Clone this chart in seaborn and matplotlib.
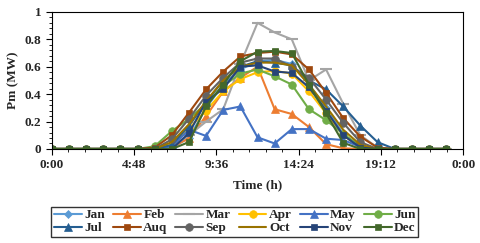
import numpy as np
import pandas as pd
import seaborn as sns
import matplotlib
matplotlib.use("Agg")
import matplotlib.pyplot as plt
from matplotlib.ticker import MultipleLocator

#### data: hourly Pm (MW), hours 0..23
hours = list(range(24))
months = ["Jan", "Feb", "Mar", "Apr", "May", "Jun",
          "Jul", "Auq", "Sep", "Oct", "Nov", "Dec"]

jan = [0, 0, 0, 0, 0, 0, 0, 0.01, 0.08, 0.30, 0.47, 0.58, 0.64, 0.65, 0.62, 0.47, 0.30, 0.11, 0.01, 0, 0, 0, 0, 0]
feb = [0, 0, 0, 0, 0, 0, 0, 0.01, 0.08, 0.24, 0.42, 0.52, 0.60, 0.29, 0.255, 0.16, 0.035, 0.005, 0, 0, 0, 0, 0, 0]
mar = [0, 0, 0, 0, 0, 0, 0, 0.02, 0.10, 0.20, 0.29, 0.62, 0.92, 0.85, 0.80, 0.50, 0.58, 0.33, 0.10, 0.01, 0, 0, 0, 0]
apr = [0, 0, 0, 0, 0, 0, 0, 0.03, 0.15, 0.28, 0.42, 0.51, 0.56, 0.57, 0.55, 0.42, 0.26, 0.10, 0.01, 0, 0, 0, 0, 0]
may = [0, 0, 0, 0, 0, 0, 0, 0.02, 0.14, 0.095, 0.285, 0.31, 0.085, 0.04, 0.145, 0.145, 0.075, 0.065, 0.015, 0, 0, 0, 0, 0]
jun = [0, 0, 0, 0, 0, 0, 0.02, 0.13, 0.22, 0.33, 0.46, 0.55, 0.58, 0.53, 0.47, 0.29, 0.21, 0.11, 0.02, 0, 0, 0, 0, 0]
jul = [0, 0, 0, 0, 0, 0, 0, 0.03, 0.17, 0.34, 0.50, 0.60, 0.64, 0.63, 0.61, 0.50, 0.435, 0.31, 0.17, 0.05, 0, 0, 0, 0]
aug = [0, 0, 0, 0, 0, 0, 0.01, 0.10, 0.265, 0.435, 0.565, 0.675, 0.70, 0.71, 0.69, 0.58, 0.41, 0.225, 0.09, 0.01, 0, 0, 0, 0]
sep = [0, 0, 0, 0, 0, 0, 0, 0.07, 0.22, 0.39, 0.52, 0.63, 0.66, 0.66, 0.60, 0.52, 0.36, 0.19, 0.05, 0, 0, 0, 0, 0]
oct_ = [0, 0, 0, 0, 0, 0, 0, 0.05, 0.18, 0.35, 0.50, 0.60, 0.63, 0.63, 0.61, 0.47, 0.31, 0.14, 0.03, 0, 0, 0, 0, 0]
nov = [0, 0, 0, 0, 0, 0, 0, 0, 0.115, 0.345, 0.44, 0.60, 0.61, 0.565, 0.555, 0.45, 0.28, 0.10, 0.01, 0, 0, 0, 0, 0]
dec = [0, 0, 0, 0, 0, 0, 0, 0, 0.05, 0.31, 0.47, 0.64, 0.71, 0.715, 0.70, 0.47, 0.26, 0.045, 0, 0, 0, 0, 0, 0]

series = [jan, feb, mar, apr, may, jun, jul, aug, sep, oct_, nov, dec]

xtick_pos = [0, 4.8, 9.6, 14.4, 19.2, 24]
xtick_lab = ["0:00", "4:48", "9:36", "14:24", "19:12", "0:00"]
ytick_pos = [0, 0.2, 0.4, 0.6, 0.8, 1.0]
ytick_lab = ["0", "0.2", "0.4", "0.6", "0.8", "1"]

colors = ['#5B9BD5', '#ED7D31', '#A5A5A5', '#FFC000', '#4472C4', '#70AD47',
          '#255E91', '#9E480E', '#636363', '#997300', '#264478', '#43682B']
marks = ['D', '^', '_', 'o', '^', 'o', '^', 's', 'o', '', 's', 's']
msize = [4.5, 5.5, 8, 5.5, 5.5, 5.5, 5.5, 5, 5.5, 0, 5, 5]
##################

df = pd.DataFrame({"hour": np.tile(hours, len(months)),
                   "Pm": np.concatenate(series),
                   "month": np.repeat(months, len(hours))})

sns.set_style("ticks")
plt.rcParams['font.family'] = ['Liberation Serif', 'DejaVu Serif']
plt.rcParams['font.weight'] = 'bold'

fig = plt.figure(figsize=(4.8, 2.43), dpi=100)
ax = fig.add_axes([0.108, 0.387, 0.857, 0.564])

for i, m in enumerate(months):
    sub = df[df["month"] == m]
    sns.lineplot(data=sub, x="hour", y="Pm", ax=ax, color=colors[i],
                 marker=marks[i] if marks[i] else None, markersize=msize[i],
                 markeredgecolor=colors[i], markeredgewidth=1.5 if marks[i] == '_' else 0.5,
                 linewidth=1.5, label=m)

ax.set_xlim(0, 24)
ax.set_ylim(0, 1)
ax.set_xticks(xtick_pos)
ax.set_xticklabels(xtick_lab)
ax.xaxis.set_minor_locator(MultipleLocator(0.96))
ax.set_yticks(ytick_pos)
ax.set_yticklabels(ytick_lab)
ax.yaxis.set_minor_locator(MultipleLocator(0.04))
ax.tick_params(axis='both', which='major', labelsize=9.5, length=4, width=0.8, color='black')
ax.tick_params(axis='both', which='minor', length=2.5, width=0.6, color='black')
for lab in ax.get_xticklabels() + ax.get_yticklabels():
    lab.set_fontweight('bold')
for sp in ax.spines.values():
    sp.set_visible(True)
    sp.set_color('black')
    sp.set_linewidth(0.8)

ax.set_xlabel("Time (h)", fontsize=9.5, fontweight='bold', labelpad=6)
ax.set_ylabel("Pm (MW)", fontsize=9.5, fontweight='bold', labelpad=4)

# legend is filled column by column, so interleave to get Jan..Jun on row 1
handles, labels = ax.get_legend_handles_labels()
order = []
for c in range(6):
    order += [c, c + 6]
leg = ax.legend([handles[k] for k in order], [labels[k] for k in order],
                loc='upper center', bbox_to_anchor=(0.445, -0.42), ncol=6,
                frameon=True, fancybox=False, edgecolor='black',
                handlelength=2.1, handletextpad=0.2, columnspacing=0.6,
                labelspacing=0.05, borderpad=0.2, borderaxespad=0,
                prop={'weight': 'bold', 'size': 9.5})
leg.get_frame().set_linewidth(1.0)

fig.savefig("out.png", dpi=100)
